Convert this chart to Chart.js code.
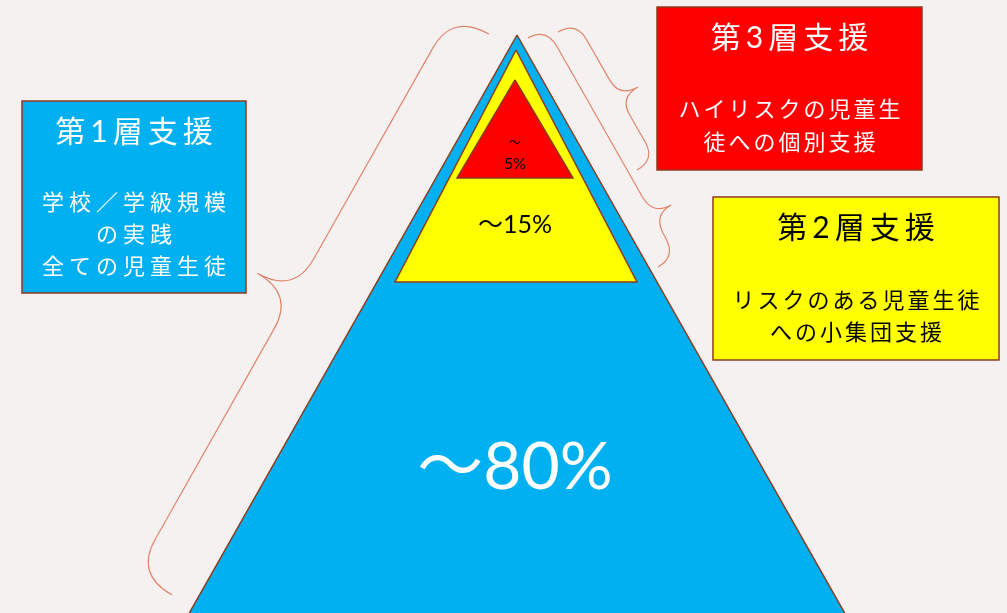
<!DOCTYPE html>
<html>
<head>
<meta charset="utf-8">
<script src="https://cdn.jsdelivr.net/npm/chart.js@4.4.1/dist/chart.umd.min.js"></script>
<style>
  html, body { margin: 0; padding: 0; background: #f5f1f0; }
  #wrap { width: 1007px; height: 613px; position: relative; }
</style>
</head>
<body>
<div id="wrap"><canvas id="pyramid"></canvas></div>
<script>
"use strict";

// data
const tierTitles = ['第1層支援', '第2層支援', '第3層支援'];
const tierShares = [80, 15, 5];
const tierTargets = [
    ['学校／学級規模', 'の実践', '全ての児童生徒'],
    ['リスクのある児童生徒', 'への小集団支援'],
    ['ハイリスクの児童生', '徒への個別支援']
];

// layout / styles (image coordinates, y downward)
const tierColors = ['#00b0f0', '#ffff00', '#ff0000'];
const boxTextColors = ['#ffffff', '#000000', '#ffffff'];
const shareTextColors = ['#ffffff', '#000000', '#000000'];
const edgeColor = '#8e3b1f';
const braceColor = '#e2846a';

const triangles = [
    { apex: [517, 35], baseY: 700, halfBase: 377 },
    { apex: [516, 50], baseY: 282, halfBase: 121 },
    { apex: [515, 80], baseY: 178, halfBase: 58 }
];

// share label: centre x, line y's, font sizes
const shareLayout = [
    { x: 515, ys: [468], sizes: [66] },
    { x: 515, ys: [225], sizes: [25] },
    { x: 515, ys: [143, 164], sizes: [12, 16] }
];

const boxes = [
    { x0: 22, y0: 101, x1: 246, y1: 293, titleY: 132, lineYs: [203, 235, 267], spacing: 5 },
    { x0: 713, y0: 197, x1: 999, y1: 360, titleY: 228, lineYs: [301, 333], spacing: 3 },
    { x0: 657, y0: 7, x1: 922, y1: 170, titleY: 38, lineYs: [110, 143], spacing: 3 }
];

// braces: from A to B, depth h, tip position t, curve r, side (+1 / -1)
const braces = [
    { a: [489, 34], b: [172, 595], h: 84, t: 0.5, r: 40, side: 1 },
    { a: [528, 38], b: [658, 267], h: 42, t: 0.82, r: 22, side: -1 },
    { a: [558, 32], b: [637, 170], h: 42, t: 0.55, r: 20, side: -1 }
];

function trianglePoints(tri) {
    var ax = tri.apex[0], ay = tri.apex[1];
    return [
        { x: ax, y: ay },
        { x: ax + tri.halfBase, y: tri.baseY },
        { x: ax - tri.halfBase, y: tri.baseY },
        { x: ax, y: ay }
    ];
}

// draw back to front: tier 1 at the bottom
var datasets = [];
for (var i = 0; i < tierShares.length; i++) {
    datasets.push({
        label: tierTitles[i],
        data: trianglePoints(triangles[i]),
        showLine: true,
        fill: 'shape',
        backgroundColor: tierColors[i],
        borderColor: edgeColor,
        borderWidth: 1.5,
        borderJoinStyle: 'miter',
        pointRadius: 0,
        tension: 0,
        order: tierShares.length - i
    });
}

function drawSpaced(ctx, text, x, y, spacing) {
    ctx.letterSpacing = spacing + 'px';
    ctx.fillText(text, x + spacing / 2, y);
    ctx.letterSpacing = '0px';
}

var pyramidLabels = {
    id: 'pyramidLabels',
    beforeDatasetsDraw: function (chart) {
        var ctx = chart.ctx;
        var sx = chart.scales.x, sy = chart.scales.y;
        var px = function (v) { return sx.getPixelForValue(v); };
        var py = function (v) { return sy.getPixelForValue(v); };

        ctx.save();
        ctx.strokeStyle = braceColor;
        ctx.lineWidth = 1.2;
        braces.forEach(function (br) {
            var ax = px(br.a[0]), ay = py(br.a[1]);
            var bx = px(br.b[0]), by = py(br.b[1]);
            var dx = bx - ax, dy = by - ay;
            var L = Math.sqrt(dx * dx + dy * dy);
            var ux = dx / L, uy = dy / L;
            var nx = -uy * br.side, ny = ux * br.side;
            var P = function (s, d) { return [ax + ux * s + nx * d, ay + uy * s + ny * d]; };
            var h = br.h, m = br.t * L, r = br.r;
            var p;
            ctx.beginPath();
            ctx.moveTo(ax, ay);
            var c1 = P(0, h / 2), e1 = P(r, h / 2);
            ctx.quadraticCurveTo(c1[0], c1[1], e1[0], e1[1]);
            p = P(m - r, h / 2); ctx.lineTo(p[0], p[1]);
            var c2 = P(m, h / 2), tip = P(m, h);
            ctx.quadraticCurveTo(c2[0], c2[1], tip[0], tip[1]);
            var e3 = P(m + r, h / 2);
            ctx.quadraticCurveTo(c2[0], c2[1], e3[0], e3[1]);
            p = P(L - r, h / 2); ctx.lineTo(p[0], p[1]);
            var c4 = P(L, h / 2), end = P(L, 0);
            ctx.quadraticCurveTo(c4[0], c4[1], end[0], end[1]);
            ctx.stroke();
        });
        ctx.restore();
    },
    afterDatasetsDraw: function (chart) {
        var ctx = chart.ctx;
        var sx = chart.scales.x, sy = chart.scales.y;
        var px = function (v) { return sx.getPixelForValue(v); };
        var py = function (v) { return sy.getPixelForValue(v); };

        ctx.save();
        ctx.textAlign = 'center';
        ctx.textBaseline = 'middle';

        // share labels inside the pyramid
        tierShares.forEach(function (v, i) {
            var lay = shareLayout[i];
            var lines = lay.ys.length > 1 ? ['～', v + '%'] : ['～' + v + '%'];
            ctx.fillStyle = shareTextColors[i];
            lines.forEach(function (txt, k) {
                ctx.font = lay.sizes[k] + "px Lato, 'Noto Sans CJK JP'";
                ctx.fillText(txt, px(lay.x), py(lay.ys[k]));
            });
        });

        // tier boxes
        tierTitles.forEach(function (title, i) {
            var b = boxes[i];
            var x0 = px(b.x0), y0 = py(b.y0), x1 = px(b.x1), y1 = py(b.y1);
            ctx.fillStyle = tierColors[i];
            ctx.fillRect(x0, y0, x1 - x0, y1 - y0);
            ctx.strokeStyle = edgeColor;
            ctx.lineWidth = 1.5;
            ctx.strokeRect(x0, y0, x1 - x0, y1 - y0);

            var cx = (x0 + x1) / 2;
            ctx.fillStyle = boxTextColors[i];
            ctx.font = "30px Lato, 'Noto Sans CJK JP'";
            drawSpaced(ctx, title, cx, py(b.titleY), 5);
            ctx.font = "22px Lato, 'Noto Sans CJK JP'";
            tierTargets[i].forEach(function (line, k) {
                drawSpaced(ctx, line, cx, py(b.lineYs[k]), b.spacing);
            });
        });
        ctx.restore();
    }
};

new Chart(document.getElementById('pyramid'), {
    type: 'scatter',
    data: { datasets: datasets },
    options: {
        responsive: true,
        maintainAspectRatio: false,
        devicePixelRatio: 1,
        animation: false,
        events: [],
        layout: { padding: 0 },
        scales: {
            x: { type: 'linear', min: 0, max: 1007, display: false },
            y: { type: 'linear', min: 0, max: 613, reverse: true, display: false }
        },
        plugins: {
            legend: { display: false },
            tooltip: { enabled: false }
        }
    },
    plugins: [pyramidLabels]
});
</script>
</body>
</html>
